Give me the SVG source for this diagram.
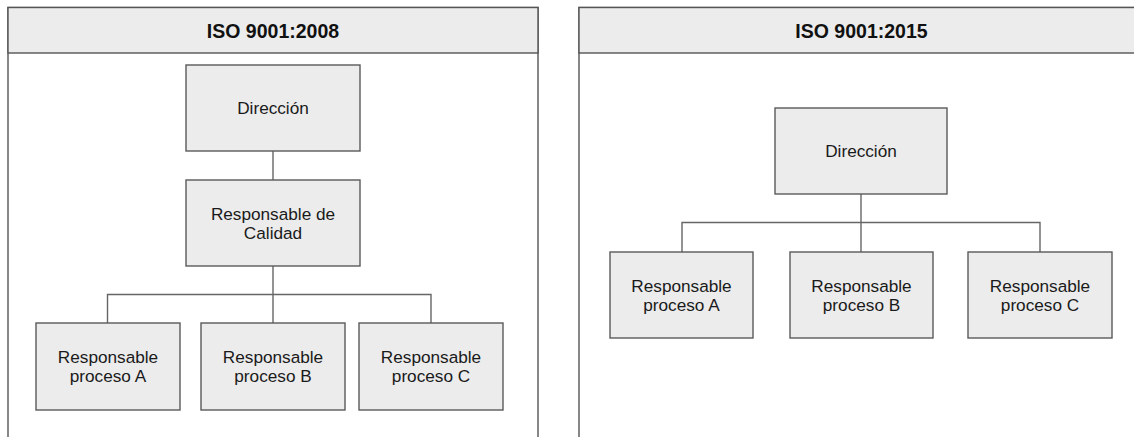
<svg xmlns="http://www.w3.org/2000/svg" width="1134" height="437" viewBox="0 0 1134 437">
  <style>
    .panel { fill: #ffffff; stroke: #555555; stroke-width: 1.4; }
    .head { fill: #ececec; stroke: #555555; stroke-width: 1.4; }
    .box { fill: #ececec; stroke: #5a5a5a; stroke-width: 1.4; }
    .link { fill: none; stroke: #666666; stroke-width: 1.4; }
    .title { font-family: "Liberation Sans", Arial, sans-serif; font-size: 19.5px; font-weight: bold; fill: #111111; text-anchor: middle; }
    .label { font-family: "Liberation Sans", Arial, sans-serif; font-size: 17.2px; fill: #1a1a1a; text-anchor: middle; }
  </style>

  <!-- Left panel: ISO 9001:2008 -->
  <g id="panel-2008">
    <rect class="panel" x="8" y="7.5" width="530" height="440"/>
    <rect class="head" x="8" y="7.5" width="530" height="45.5"/>
    <text class="title" x="273" y="38">ISO 9001:2008</text>
  </g>

  <!-- Right panel: ISO 9001:2015 -->
  <g id="panel-2015">
    <rect class="panel" x="579" y="7.5" width="570" height="440"/>
    <rect class="head" x="579" y="7.5" width="570" height="45.5"/>
    <text class="title" x="861.5" y="38">ISO 9001:2015</text>
  </g>

  <!-- Connectors -->
  <g id="connectors">
    <path class="link" d="M273 151 V180"/>
    <path class="link" d="M273 266 V323"/>
    <path class="link" d="M107.5 323 V294.5 H431 V323"/>
    <path class="link" d="M861 194 V252"/>
    <path class="link" d="M682 252 V222.5 H1040 V252"/>
  </g>

  <!-- 2008 nodes -->
  <g id="dir-2008">
    <rect class="box" x="186" y="65" width="174" height="86"/>
    <text class="label" x="273" y="114">Dirección</text>
  </g>
  <g id="calidad-2008">
    <rect class="box" x="186" y="180" width="174" height="86"/>
    <text class="label" x="273" y="219.5">Responsable de</text>
    <text class="label" x="273" y="238.5">Calidad</text>
  </g>
  <g id="procA-2008">
    <rect class="box" x="36" y="323" width="144" height="87"/>
    <text class="label" x="108" y="363">Responsable</text>
    <text class="label" x="108" y="382">proceso A</text>
  </g>
  <g id="procB-2008">
    <rect class="box" x="201" y="323" width="144" height="87"/>
    <text class="label" x="273" y="363">Responsable</text>
    <text class="label" x="273" y="382">proceso B</text>
  </g>
  <g id="procC-2008">
    <rect class="box" x="359" y="323" width="144" height="87"/>
    <text class="label" x="431" y="363">Responsable</text>
    <text class="label" x="431" y="382">proceso C</text>
  </g>

  <!-- 2015 nodes -->
  <g id="dir-2015">
    <rect class="box" x="775" y="108" width="172" height="86"/>
    <text class="label" x="861" y="157">Dirección</text>
  </g>
  <g id="procA-2015">
    <rect class="box" x="610" y="252" width="143" height="86"/>
    <text class="label" x="681.5" y="291.5">Responsable</text>
    <text class="label" x="681.5" y="310.5">proceso A</text>
  </g>
  <g id="procB-2015">
    <rect class="box" x="790" y="252" width="143" height="86"/>
    <text class="label" x="861.5" y="291.5">Responsable</text>
    <text class="label" x="861.5" y="310.5">proceso B</text>
  </g>
  <g id="procC-2015">
    <rect class="box" x="968" y="252" width="144" height="86"/>
    <text class="label" x="1040" y="291.5">Responsable</text>
    <text class="label" x="1040" y="310.5">proceso C</text>
  </g>
</svg>
